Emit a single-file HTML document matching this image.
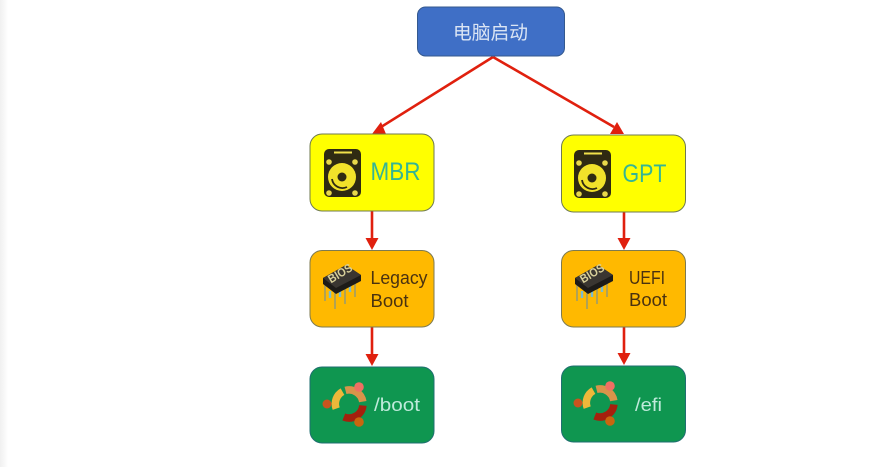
<!DOCTYPE html>
<html><head><meta charset="utf-8">
<style>
html,body{margin:0;padding:0;background:#fff}
body{width:883px;height:467px;overflow:hidden;position:relative}
svg{position:absolute;left:0;top:0}
text{font-family:"Liberation Sans","Noto Sans CJK SC",sans-serif}
</style></head>
<body>
<svg width="883" height="467" viewBox="0 0 883 467" xmlns="http://www.w3.org/2000/svg">
<defs>
<linearGradient id="edge" x1="0" x2="1" y1="0" y2="0"><stop offset="0" stop-color="#f0f0f0"/><stop offset="1" stop-color="#fff"/></linearGradient>
<g id="hdd">
  <rect x="-19" y="-25" width="37" height="48" rx="5" fill="#2f2a12"/>
  <rect x="-9" y="-22.500" width="18" height="2" fill="#f0e04a"/>
  <circle cx="-14" cy="-12" r="2.800" fill="#e8d84a"/>
  <circle cx="12" cy="-12" r="2.800" fill="#e8d84a"/>
  <circle cx="-14" cy="19" r="2.800" fill="#e8d84a"/>
  <circle cx="12" cy="19" r="2.800" fill="#e8d84a"/>
  <circle cx="-1" cy="3" r="14" fill="#f2e22a"/>
  <circle cx="-1" cy="3" r="4.500" fill="#2f2a12"/>
  <path d="M-11 5 A10.500 10.500 0 0 0 4 13" fill="none" stroke="#2f2a12" stroke-width="1.800"/>
</g>
<g id="bios">
  <g stroke="#a8a060" stroke-width="1.800"><path d="M-17 -2V14M-7 3V22M3 -2V17M13 -7V10"/></g>
  <g stroke="#7cbcd0" stroke-width="2.400"><path d="M-12 4V11M-2 3V10M8 -2V5"/></g>
  <path d="M-19 -9 L4 -22 L19 -12 L19 -6 L-6 7 L-19 -3Z" fill="#1d1b18"/>
  <path d="M-19 -9 L4 -22 L19 -12 L-6 1Z" fill="#3a3631"/>
  <text transform="translate(-11,-3.500) rotate(-31)" font-size="12" font-weight="bold" fill="#d8d09a" textLength="26" lengthAdjust="spacingAndGlyphs">BIOS</text>
</g>
<g id="ubuntu" fill="none" stroke-width="7.500">
  <path d="M-12.800 4.600 A14 14 0 0 1 -6.500 -12.400" stroke="#eeb83a" transform="translate(1,0)"/>
  <path d="M-3.500 -13.600 A14 14 0 0 1 13.800 -2.400" stroke="#d8944a" transform="translate(1,0)"/>
  <path d="M13.900 1.500 A14 14 0 0 1 -5.200 13" stroke="#a5200d" transform="translate(1,0)"/>
  <circle cx="-21" cy="0" r="4.500" fill="#c9541f" stroke="none"/>
  <circle cx="11" cy="-17" r="4.800" fill="#ef6f63" stroke="none"/>
  <circle cx="11" cy="18" r="4.800" fill="#c8660f" stroke="none"/>
</g>
</defs>
<rect width="883" height="467" fill="#fff"/>
<rect width="8" height="467" fill="url(#edge)"/>

<!-- connectors -->
<g stroke="#e0200e" stroke-width="2.600" fill="none">
  <path d="M493 57L381 127"/>
  <path d="M493 57L614 127"/>
  <path d="M372 211V243"/>
  <path d="M624 212V243"/>
  <path d="M372 327V359"/>
  <path d="M624 327V359"/>
</g>
<g fill="#e0200e">
  <polygon points="372,134 381,122 386,134"/>
  <polygon points="624,134 610,134 617,122"/>
  <polygon points="372,250 365.500,238 378.500,238"/>
  <polygon points="624,250 617.500,238 630.500,238"/>
  <polygon points="372,366 365.500,354 378.500,354"/>
  <polygon points="624,365 617.500,353 630.500,353"/>
</g>

<!-- nodes -->
<rect x="417.500" y="7" width="147" height="49" rx="8" fill="#3f6fc6" stroke="#34598f" stroke-width="1"/>
<text x="453" y="39" font-size="19" fill="#dbe5f4" textLength="75" lengthAdjust="spacingAndGlyphs">电脑启动</text>

<rect x="310" y="134" width="124" height="77" rx="12" fill="#ffff00" stroke="#6f7a50" stroke-width="1"/>
<rect x="561.500" y="135" width="124" height="77" rx="12" fill="#ffff00" stroke="#6f7a50" stroke-width="1"/>
<rect x="310" y="250.500" width="124" height="76.500" rx="12" fill="#ffb900" stroke="#7d7a50" stroke-width="1"/>
<rect x="561.500" y="250.500" width="124" height="76.500" rx="12" fill="#ffb900" stroke="#7d7a50" stroke-width="1"/>
<rect x="310" y="367" width="124" height="76" rx="12" fill="#0f9650" stroke="#1f6f70" stroke-width="1"/>
<rect x="561.500" y="366" width="124" height="76" rx="12" fill="#0f9650" stroke="#1f6f70" stroke-width="1"/>

<use href="#hdd" x="343" y="174"/>
<use href="#hdd" x="593" y="175"/>
<use href="#bios" x="342" y="287"/>
<use href="#bios" x="594" y="287"/>
<use href="#ubuntu" x="348" y="404"/>
<use href="#ubuntu" x="599" y="403"/>

<g font-size="25" fill="#35b594">
  <text x="370.500" y="180" textLength="50" lengthAdjust="spacingAndGlyphs">MBR</text>
  <text x="622.500" y="182" textLength="44" lengthAdjust="spacingAndGlyphs">GPT</text>
</g>
<g font-size="18" fill="#4a3210">
  <text x="370.500" y="284" textLength="57" lengthAdjust="spacingAndGlyphs">Legacy</text>
  <text x="370.500" y="307" textLength="38" lengthAdjust="spacingAndGlyphs">Boot</text>
  <text x="629" y="284" textLength="36" lengthAdjust="spacingAndGlyphs">UEFI</text>
  <text x="629" y="306" textLength="38" lengthAdjust="spacingAndGlyphs">Boot</text>
</g>
<g font-size="18" fill="#bfeadb">
  <text x="374" y="411" textLength="46" lengthAdjust="spacingAndGlyphs">/boot</text>
  <text x="635" y="411" textLength="27" lengthAdjust="spacingAndGlyphs">/efi</text>
</g>
</svg>
</body></html>
